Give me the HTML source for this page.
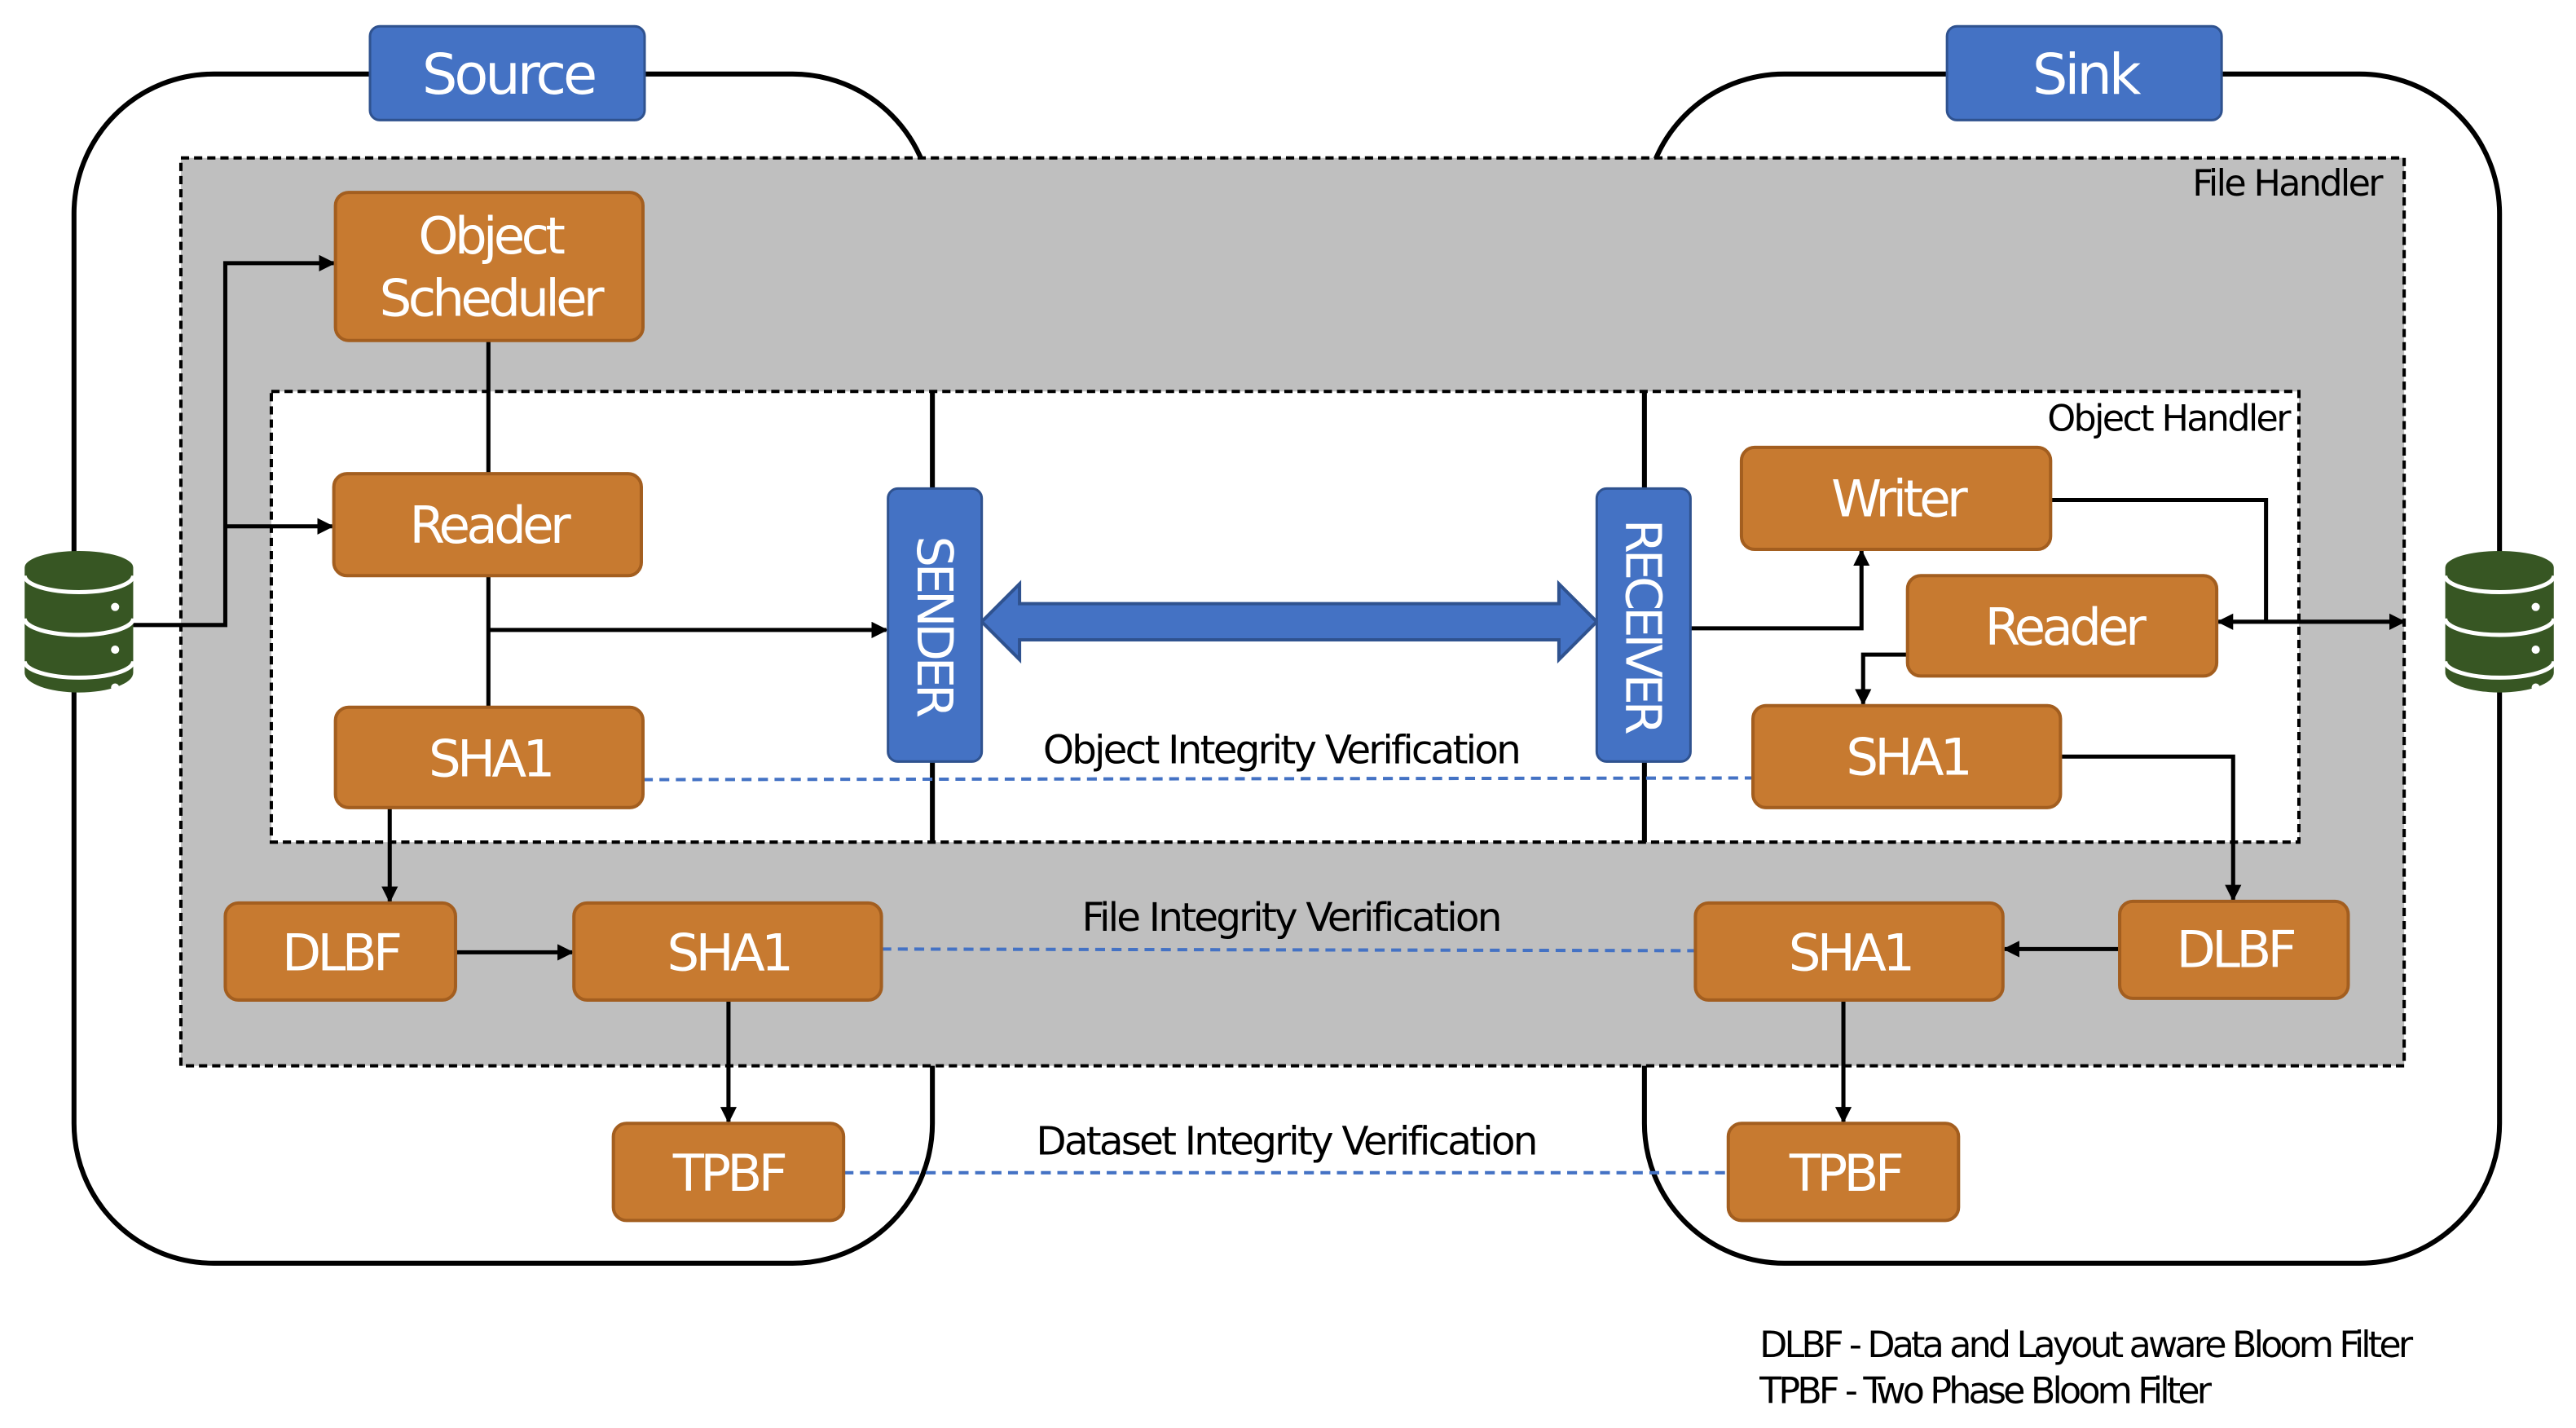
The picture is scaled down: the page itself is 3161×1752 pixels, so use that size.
<!DOCTYPE html>
<html><head><meta charset="utf-8"><style>html,body{margin:0;padding:0;background:#fff}svg{display:block}</style></head>
<body>
<svg width="3161" height="1752" viewBox="0 0 1566.5 868.2" preserveAspectRatio="none" xmlns="http://www.w3.org/2000/svg" font-family="DejaVu Sans, Liberation Sans, sans-serif">
<defs>
<marker id="ah" markerWidth="10" markerHeight="10" refX="9" refY="5" orient="auto" markerUnits="userSpaceOnUse"><path d="M0,0 L10,5 L0,10 z" fill="#000"/></marker>
<marker id="ahs" markerWidth="10" markerHeight="10" refX="1" refY="5" orient="auto" markerUnits="userSpaceOnUse"><path d="M10,0 L0,5 L10,10 z" fill="#000"/></marker>
</defs>
<rect x="45" y="45" width="522" height="723" rx="85" fill="none" stroke="#000" stroke-width="3"/>
<rect x="1000" y="45" width="520" height="723" rx="85" fill="none" stroke="#000" stroke-width="3"/>
<rect x="225" y="16" width="167" height="57" rx="6" fill="#4472c4" stroke="#2f528f" stroke-width="1.5"/>
<text x="309" y="57" font-size="34" fill="#fff" text-anchor="middle" letter-spacing="-2">Source</text>
<rect x="1184" y="16" width="167" height="57" rx="6" fill="#4472c4" stroke="#2f528f" stroke-width="1.5"/>
<text x="1268" y="57" font-size="34" fill="#fff" text-anchor="middle" letter-spacing="-2">Sink</text>
<rect x="110" y="96" width="1352" height="552" fill="#bfbfbf" stroke="#000" stroke-width="2" stroke-dasharray="5,3"/>
<text x="1448" y="119" font-size="22" text-anchor="end" letter-spacing="-1.3">File Handler</text>
<rect x="165" y="238" width="1233" height="274" fill="#fff" stroke="#000" stroke-width="2" stroke-dasharray="5,3"/>
<text x="1392" y="262" font-size="22" text-anchor="end" letter-spacing="-1.3">Object Handler</text>
<line x1="567" y1="238" x2="567" y2="512" stroke="#000" stroke-width="3"/>
<line x1="1000" y1="238" x2="1000" y2="512" stroke="#000" stroke-width="3"/>
<g stroke="#4472c4" stroke-width="2" stroke-dasharray="6,4" fill="none">
<line x1="391" y1="474" x2="1066" y2="473"/>
<line x1="536" y1="577" x2="1031" y2="578"/>
<line x1="513" y1="713" x2="1051" y2="713"/>
</g>
<g font-size="24" text-anchor="middle" letter-spacing="-1.4">
<text x="779" y="464">Object Integrity Verification</text>
<text x="785" y="566">File Integrity Verification</text>
<text x="782" y="702">Dataset Integrity Verification</text>
</g>
<g stroke="#000" stroke-width="2.5" fill="none">
<polyline points="81,380 137,380 137,160 203,160" marker-end="url(#ah)"/>
<polyline points="137,320 202,320" marker-end="url(#ah)"/>
<line x1="297" y1="207" x2="297" y2="288"/>
<line x1="297" y1="350" x2="297" y2="430"/>
<polyline points="297,383 539,383" marker-end="url(#ah)"/>
<polyline points="237,491 237,548" marker-end="url(#ah)"/>
<polyline points="277,579 348,579" marker-end="url(#ah)"/>
<polyline points="443,608 443,682" marker-end="url(#ah)"/>
<polyline points="1028,382 1132,382 1132,335" marker-end="url(#ah)"/>
<polyline points="1247,304 1378,304 1378,378"/>
<line x1="1349" y1="378" x2="1462" y2="378" marker-start="url(#ahs)" marker-end="url(#ah)"/>
<polyline points="1160,398 1133,398 1133,428" marker-end="url(#ah)"/>
<polyline points="1253,460 1358,460 1358,547" marker-end="url(#ah)"/>
<polyline points="1289,577 1219,577" marker-end="url(#ah)"/>
<polyline points="1121,608 1121,682" marker-end="url(#ah)"/>
</g>
<path d="M597,378 L620,355 L620,367 L948,367 L948,355 L971,378 L948,401 L948,389 L620,389 L620,401 Z" fill="#4472c4" stroke="#2f528f" stroke-width="2"/>
<rect x="540" y="297" width="57" height="166" rx="6" fill="#4472c4" stroke="#2f528f" stroke-width="1.5"/>
<text transform="translate(558,380) rotate(90)" font-size="30" fill="#fff" text-anchor="middle" letter-spacing="-2.5">SENDER</text>
<rect x="971" y="297" width="57" height="166" rx="6" fill="#4472c4" stroke="#2f528f" stroke-width="1.5"/>
<text transform="translate(989,380) rotate(90)" font-size="30" fill="#fff" text-anchor="middle" letter-spacing="-2.5">RECEIVER</text>
<g fill="#c77a30" stroke="#a35e1f" stroke-width="2">
<rect x="204" y="117" width="187" height="90" rx="8"/>
<rect x="203" y="288" width="187" height="62" rx="8"/>
<rect x="204" y="430" width="187" height="61" rx="8"/>
<rect x="137" y="549" width="140" height="59" rx="8"/>
<rect x="349" y="549" width="187" height="59" rx="8"/>
<rect x="373" y="683" width="140" height="59" rx="8"/>
<rect x="1059" y="272" width="188" height="62" rx="8"/>
<rect x="1160" y="350" width="188" height="61" rx="8"/>
<rect x="1066" y="429" width="187" height="62" rx="8"/>
<rect x="1031" y="549" width="187" height="59" rx="8"/>
<rect x="1289" y="548" width="139" height="59" rx="8"/>
<rect x="1051" y="683" width="140" height="59" rx="8"/>
</g>
<g font-size="31" fill="#fff" text-anchor="middle" letter-spacing="-2.3">
<text x="298" y="154">Object</text>
<text x="298" y="192">Scheduler</text>
<text x="297" y="330">Reader</text>
<text x="298" y="472">SHA1</text>
<text x="207" y="590">DLBF</text>
<text x="443" y="590">SHA1</text>
<text x="443" y="724">TPBF</text>
<text x="1154" y="314">Writer</text>
<text x="1255" y="392">Reader</text>
<text x="1160" y="471">SHA1</text>
<text x="1125" y="590">SHA1</text>
<text x="1359" y="588">DLBF</text>
<text x="1122" y="724">TPBF</text>
</g>
<g id="db">
<path d="M15,345 a33,10 0 0 1 66,0 v64 a33,12 0 0 1 -66,0 z" fill="#375623"/>
<g stroke="#fff" stroke-width="2.5" fill="none">
<path d="M15,350 a33,10 0 0 0 66,0"/>
<path d="M15,376 a33,10 0 0 0 66,0"/>
<path d="M15,402 a33,10 0 0 0 66,0"/>
</g>
<g fill="#fff"><circle cx="70" cy="369" r="2.5"/><circle cx="70" cy="395" r="2.5"/><circle cx="70" cy="418" r="2.5"/></g>
</g>
<use href="#db" transform="translate(1472,0)"/>
<g font-size="22" letter-spacing="-1.9">
<text x="1070" y="825">DLBF - Data and Layout aware Bloom Filter</text>
<text x="1070" y="853">TPBF - Two Phase Bloom Filter</text>
</g>
</svg>
</body></html>
